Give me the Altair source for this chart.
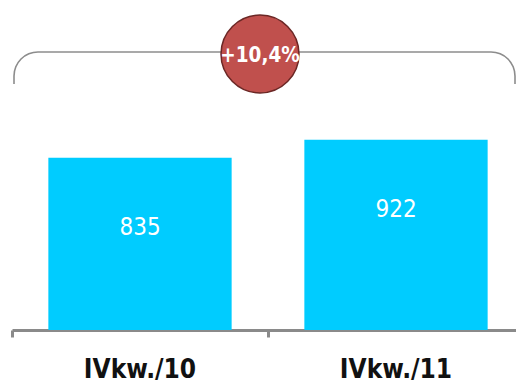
import altair as alt
import pandas as pd

# ---- data ----
periods = ["IVkw./10", "IVkw./11"]
values = [835, 922]
change_label = "+10,4%"

df = pd.DataFrame({"period": periods, "value": values})
deco = pd.DataFrame({"label": [change_label]})

BAR = "#00CCFF"
AXIS_GREY = "#8a8a8a"
BRACKET_GREY = "#8c8c8c"
FONT = "DejaVu Sans Condensed"

x_enc = alt.X(
    "period:N",
    sort=None,
    title=None,
    scale=alt.Scale(range=[4, 516], paddingInner=0.284, paddingOuter=0.142),
    axis=alt.Axis(
        labelAngle=0,
        labelFont=FONT,
        labelFontWeight="bold",
        labelFontSize=26,
        labelColor="#111111",
        labelBaseline="alphabetic",
        labelPadding=40,
        domainColor=AXIS_GREY,
        domainWidth=3,
        tickColor=AXIS_GREY,
        tickWidth=3,
        tickSize=7,
        bandPosition=-0.198,
        grid=False,
    ),
)
y_enc = alt.Y("value:Q", scale=alt.Scale(domain=[0, 1560], nice=False, zero=True), axis=None)

bars = alt.Chart(df).mark_bar(color=BAR).encode(x=x_enc, y=y_enc)

labels = alt.Chart(df).mark_text(
    color="white", font=FONT, fontSize=24, baseline="middle", dy=70
).encode(x=alt.X("period:N", sort=None), y=alt.Y("value:Q"), text=alt.Text("value:Q"))

# bracket
hline = alt.Chart(deco).mark_rule(color=BRACKET_GREY, strokeWidth=1.6).encode(
    x=alt.value(30), x2=alt.value(483), y=alt.value(44)
)
lv = alt.Chart(deco).mark_rule(color=BRACKET_GREY, strokeWidth=1.6).encode(
    x=alt.value(6), y=alt.value(68), y2=alt.value(76)
)
rv = alt.Chart(deco).mark_rule(color=BRACKET_GREY, strokeWidth=1.6).encode(
    x=alt.value(507), y=alt.value(68), y2=alt.value(76)
)
larc = alt.Chart(deco).mark_arc(
    innerRadius=23.2, outerRadius=24.8, color=BRACKET_GREY
).encode(
    x=alt.value(30), y=alt.value(68), theta=alt.value(4.71238898), theta2=alt.value(6.28318531)
)
rarc = alt.Chart(deco).mark_arc(
    innerRadius=23.2, outerRadius=24.8, color=BRACKET_GREY
).encode(
    x=alt.value(483), y=alt.value(68), theta=alt.value(0), theta2=alt.value(1.57079633)
)

circle = alt.Chart(deco).mark_circle(
    color="#C0504D", opacity=1, stroke="#6B2725", strokeWidth=1.5, size=6082
).encode(x=alt.value(252), y=alt.value(46))

circle_text = alt.Chart(deco).mark_text(
    color="white", font=FONT, fontWeight="bold", fontSize=20.5, baseline="middle"
).encode(x=alt.value(252), y=alt.value(48), text="label:N")

chart = (
    alt.layer(bars, labels, hline, lv, rv, larc, rarc, circle, circle_text)
    .properties(
        width=508,
        height=322,
        autosize=alt.AutoSizeParams(type="none"),
        padding={"left": 0, "top": 0, "right": 0, "bottom": 52},
    )
    .configure_view(strokeWidth=0)
)

chart.save("out.html", embed_options={"renderer": "svg", "actions": False})
